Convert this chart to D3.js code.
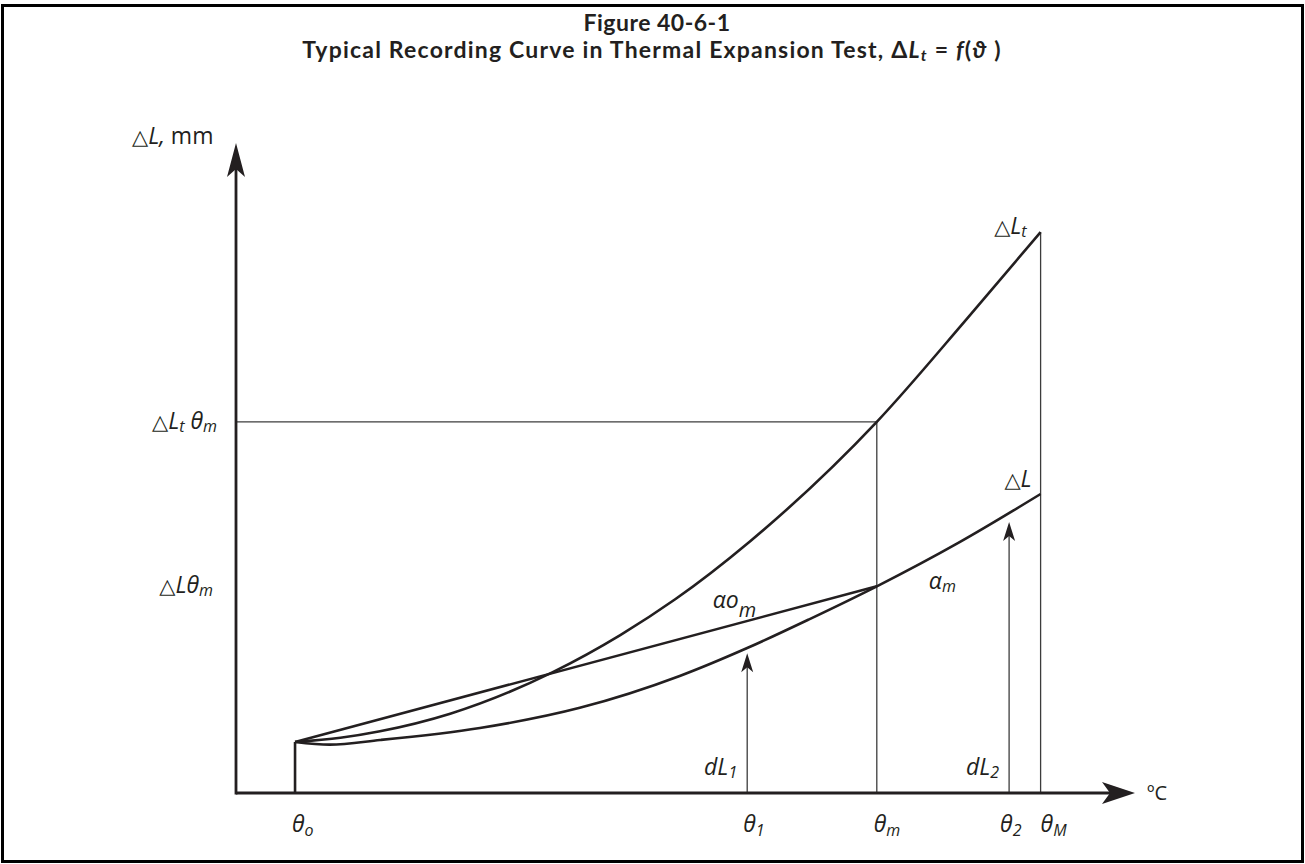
<!DOCTYPE html>
<html><head><meta charset="utf-8">
<script src="https://cdn.jsdelivr.net/npm/d3@7"></script>
<style>body{margin:0;background:#fff}text{fill:#231f20}</style>
</head><body><svg id="c" width="1305" height="864"></svg>
<script>
// ---- data (abstract units: temperature 0..100, elongation 0..100) ----
const thetaSubs   = ["o", "1", "m", "2", "M"];
const thetaValues = [6.56, 56.8, 71.2, 85.9, 89.4];
const curveLtX = [6.56, 11.6, 16.0, 23.8, 35.2, 42.7, 48.8, 57.1, 71.2, 81.3, 89.4];
const curveLtY = [7.85, 8.5, 9.5, 12.2, 18.6, 24.3, 29.8, 38.7, 57.1, 73.1, 86.3];
const curveLX  = [6.56, 10.4, 16.0, 27.1, 38.2, 49.3, 56.8, 63.8, 71.2, 80.4, 89.4];
const curveLY  = [7.85, 7.45, 8.15, 10.0, 13.1, 18.0, 22.3, 26.8, 31.8, 38.6, 46.0];
const chordX = [6.56, 71.2];
const chordY = [7.85, 31.8];
const levelLtThetaM = 57.1;
const levelLThetaM  = 31.8;
const dLArrowX   = [56.8, 85.9];
const dLArrowTop = [21.5, 41.7];
const dLSubs     = ["1", "2"];

const svg = d3.select("#c");
const x = d3.scaleLinear().domain([0, 100]).range([236, 1136]);
const y = d3.scaleLinear().domain([0, 100]).range([793, 143]);
const INK = "#231f20", THIN = "#3c3c3c";
const FONT = "'Open Sans', 'DejaVu Sans', sans-serif";
const TRI = "'DejaVu Sans'";
const LS = 23, SS = 16;

// frame
svg.append("rect").attr("x", 2.5).attr("y", 5.5).attr("width", 1300).attr("height", 856)
  .attr("fill", "none").attr("stroke", "#000").attr("stroke-width", 3);

// rich text helper
function rich(x0, y0, parts, opts = {}) {
  const t = svg.append("text").attr("x", x0).attr("y", y0)
    .attr("text-anchor", opts.anchor || "start")
    .style("font-family", opts.font || FONT)
    .style("font-size", (opts.size || LS) + "px")
    .style("font-weight", opts.weight || "normal");
  if (opts.ls) t.style("letter-spacing", opts.ls + "px");
  let shift = 0;
  parts.forEach(p => {
    const ts = t.append("tspan").text(p.t);
    if (p.i) ts.style("font-style", "italic");
    if (p.s) ts.style("font-size", p.s + "px");
    if (p.f) ts.style("font-family", p.f);
    const want = p.sub || 0;
    if (want !== shift) { ts.attr("dy", want - shift); shift = want; }
  });
  return t;
}

// title
rich(657, 31, [{t: "Figure 40-6-1"}], {anchor: "middle", size: 23, weight: "bold", font: "Lato, sans-serif", ls: 0.5});
rich(652, 58, [
  {t: "Typical Recording Curve in Thermal Expansion Test, "},
  {t: "Δ"}, {t: "L", i: 1}, {t: "t", i: 1, s: 16, sub: 3},
  {t: " = "}, {t: "f", i: 1}, {t: "("}, {t: "ϑ", i: 1}, {t: " )"}
], {anchor: "middle", size: 23, weight: "bold", font: "Lato, sans-serif", ls: 1.2});

const ln = (x1, y1, x2, y2, w, c) => svg.append("line")
  .attr("x1", x1).attr("y1", y1).attr("x2", x2).attr("y2", y2)
  .attr("stroke", c).attr("stroke-width", w);

// reference thin lines
ln(x(0), y(levelLtThetaM), x(thetaValues[2]), y(levelLtThetaM), 1.3, THIN);
ln(x(thetaValues[2]), y(0), x(thetaValues[2]), y(levelLtThetaM), 1.3, THIN);
ln(x(thetaValues[4]), y(0), x(thetaValues[4]), y(curveLtY[curveLtY.length - 1]), 1.3, THIN);

// arrow head helper
function head(tx, ty, dir, len, half, notch) {
  let pts;
  if (dir === "up") pts = [[tx, ty], [tx - half, ty + len], [tx, ty + len - notch], [tx + half, ty + len]];
  else pts = [[tx, ty], [tx - len, ty - half], [tx - len + notch, ty], [tx - len, ty + half]];
  svg.append("path").attr("d", "M" + pts.map(p => p.join(",")).join("L") + "Z").attr("fill", INK);
}

// dL arrows
dLArrowX.forEach((v, i) => {
  ln(x(v), y(0), x(v), y(dLArrowTop[i]) + 10, 1.3, THIN);
  head(x(v), y(dLArrowTop[i]), "up", 19, 6, 5);
});

// theta_o vertical
ln(x(thetaValues[0]), y(0), x(thetaValues[0]), y(curveLtY[0]), 2.6, INK);

// curves
const lineGen = d3.line().x(d => x(d[0])).y(d => y(d[1])).curve(d3.curveMonotoneX);
svg.append("path").attr("d", lineGen(d3.zip(curveLtX, curveLtY)))
  .attr("fill", "none").attr("stroke", INK).attr("stroke-width", 2.6);
svg.append("path").attr("d", lineGen(d3.zip(curveLX, curveLY)))
  .attr("fill", "none").attr("stroke", INK).attr("stroke-width", 2.6);
svg.append("path").attr("d", d3.line().x(d => x(d[0])).y(d => y(d[1]))(d3.zip(chordX, chordY)))
  .attr("fill", "none").attr("stroke", INK).attr("stroke-width", 2.6);

// axes
ln(x(0), y(0), x(100) - 20, y(0), 2.8, INK);
ln(x(0), y(0) + 1.4, x(0), y(100) + 20, 2.8, INK);
head(x(100) - 1, y(0), "right", 33, 11, 8);
head(x(0), y(100), "up", 34, 9, 8);

// axis labels
rich(x(0) - 104, y(100) + 1, [{t: "△", f: TRI, s: 21}, {t: "L,", i: 1}, {t: "  mm"}]);
rich(x(100) + 11, y(0) + 7, [{t: "ºC"}], {size: 20});

// y-level labels
rich(x(0) - 19, y(levelLtThetaM) + 7, [{t: "△", f: TRI, s: 21}, {t: "L", i: 1}, {t: "t", i: 1, s: SS, sub: 3}, {t: " θ", i: 1}, {t: "m", i: 1, s: SS, sub: 3}], {anchor: "end"});
rich(x(0) - 23, y(levelLThetaM) + 7, [{t: "△", f: TRI, s: 21}, {t: "L", i: 1}, {t: "θ", i: 1}, {t: "m", i: 1, s: SS, sub: 3}], {anchor: "end"});

// theta labels below axis
const thetaOffsets = [-3, -4, -3, -9, 0];
thetaValues.forEach((v, i) => {
  rich(x(v) + thetaOffsets[i], y(0) + 39, [{t: "θ", i: 1}, {t: thetaSubs[i], i: 1, s: SS, sub: 4}]);
});

// dL labels
dLArrowX.forEach((v, i) => {
  rich(x(v) - 10, y(0) - 18, [{t: "dL", i: 1}, {t: dLSubs[i], i: 1, s: SS, sub: 3}], {anchor: "end"});
});

// curve end labels
rich(x(curveLtX[curveLtX.length - 1]) - 14, y(curveLtY[curveLtY.length - 1]) + 2,
  [{t: "△", f: TRI, s: 21}, {t: "L", i: 1}, {t: "t", i: 1, s: SS, sub: 3}], {anchor: "end"});
rich(x(curveLX[curveLX.length - 1]) - 9, y(curveLY[curveLY.length - 1]) - 7,
  [{t: "△", f: TRI, s: 21}, {t: "L", i: 1}], {anchor: "end"});

// alpha labels
rich(x(thetaValues[2]) - 164, y(levelLThetaM) + 22, [{t: "αo", i: 1}, {t: "m", i: 1, s: 20, sub: 9}]);
rich(x(thetaValues[2]) + 52, y(levelLThetaM) + 3, [{t: "α", i: 1}, {t: "m", i: 1, s: SS, sub: 3}]);
</script></body></html>
